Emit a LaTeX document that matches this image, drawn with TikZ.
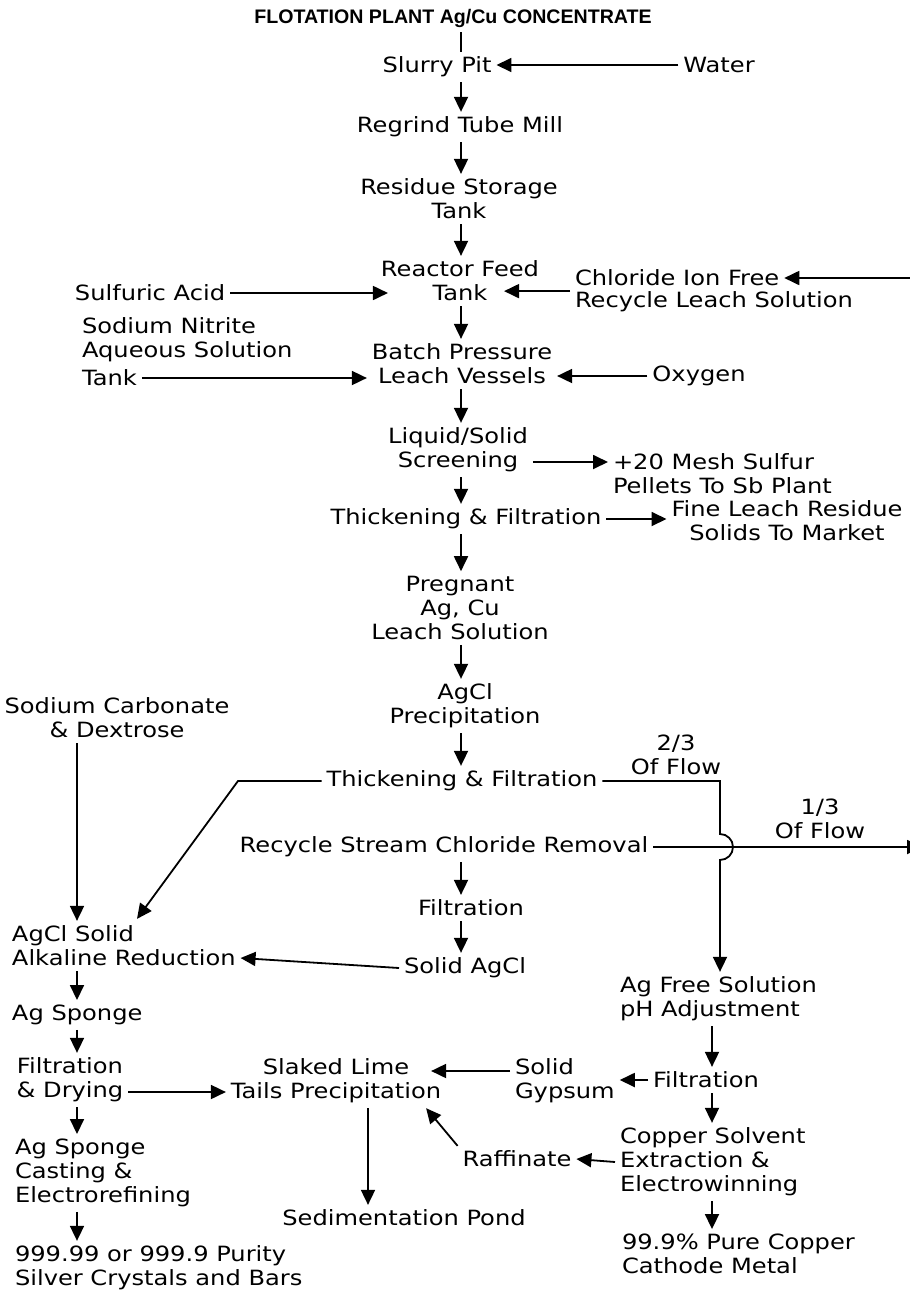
\documentclass[tikz,border=0pt]{standalone}
\usepackage{fontspec}
\setmainfont{DejaVu Sans}[FakeStretch=1.15]
\newfontfamily\titlefont{Liberation Sans}
\usetikzlibrary{arrows.meta,calc}
\begin{document}
\begin{tikzpicture}[x=1pt,y=-1pt,
  lbl/.style={inner sep=0pt,outer sep=5pt,font=\fontsize{21}{24}\selectfont,align=center},
  lft/.style={lbl,align=left,anchor=west},
  arr/.style={line width=1.8pt,-{Triangle[length=15pt,width=14pt]}},
  ln/.style={line width=1.8pt}]
\useasboundingbox (0,0) rectangle (910,1293);
\coordinate (col) at (461,0);
\coordinate (lc) at (77,0);
\coordinate (rc) at (712,0);
\coordinate (sc) at (368,0);
\coordinate (jx) at (720,0);
\coordinate (xl) at (238,0);
% nodes
\node[lbl,font={\titlefont\fontsize{19.6}{22}\selectfont\bfseries}] (title) at (453,18) {FLOTATION PLANT Ag/Cu CONCENTRATE};
\node[lbl] (slurry) at (437,67) {Slurry Pit};
\node[lbl] (water) at (719,65) {Water};
\node[lbl] (regrind) at (460,127) {Regrind Tube Mill};
\node[lbl] (residue) at (459,199) {Residue Storage\\Tank};
\node[lbl] (reactor) at (460,281) {Reactor Feed\\Tank};
\node[lbl] (sulf) at (150,293) {Sulfuric Acid};
\node[lft] (chlorA) at (570,278) {Chloride Ion Free};
\node[lft] (chlorB) at (570,302) {Recycle Leach Solution};
\node[lft] (nitrite) at (77,340) {Sodium Nitrite\\Aqueous Solution};
\node[lft] (nitriteT) at (77,378) {Tank};
\node[lbl] (batch) at (462,364) {Batch Pressure\\Leach Vessels};
\node[lbl] (oxygen) at (699,376) {Oxygen};
\node[lbl] (liquid) at (458,450) {Liquid/Solid\\Screening};
\node[lft] (mesh) at (608,474) {+20 Mesh Sulfur\\Pellets To Sb Plant};
\node[lbl] (thickA) at (466,519) {Thickening \& Filtration};
\node[lbl] (fine) at (787,521) {Fine Leach Residue\\Solids To Market};
\node[lbl] (pregnant) at (460,608) {Pregnant\\Ag, Cu\\Leach Solution};
\node[lbl] (agcl) at (465,706) {AgCl\\Precipitation};
\node[lbl] (thickB) at (462,781) {Thickening \& Filtration};
\node[lbl] (twothirds) at (676,755) {2/3\\Of Flow};
\node[lbl] (recycle) at (444,847) {Recycle Stream Chloride Removal};
\node[lbl] (onethird) at (820,819) {1/3\\Of Flow};
\node[lbl] (filtA) at (471,908) {Filtration};
\node[lbl] (solidagcl) at (465,968) {Solid AgCl};
\node[lbl] (sodium) at (117,718) {Sodium Carbonate\\\& Dextrose};
\node[lft] (alkaline) at (7,946) {AgCl Solid\\Alkaline Reduction};
\node[lft] (sponge) at (7,1015) {Ag Sponge};
\node[lbl] (drying) at (70,1080) {Filtration\\\& Drying};
\node[lft] (casting) at (10,1173) {Ag Sponge\\Casting \&\\Electrorefining};
\node[lft] (purity) at (10,1268) {999.99 or 999.9 Purity\\Silver Crystals and Bars};
\node[lbl] (slaked) at (336,1081) {Slaked Lime\\Tails Precipitation};
\node[lft] (gypsum) at (510,1081) {Solid\\Gypsum};
\node[lbl] (filtB) at (706,1080) {Filtration};
\node[lft] (agfree) at (615,999) {Ag Free Solution\\pH Adjustment};
\node[lft] (copper) at (615,1162) {Copper Solvent\\Extraction \&\\Electrowinning};
\node[lbl] (raff) at (517,1159) {Raffinate};
\node[lbl] (sed) at (404,1218) {Sedimentation Pond};
\node[lft] (cathode) at (617,1254) {99.9\% Pure Copper\\Cathode Metal};
% helper coordinates
\coordinate (eA) at (918,278);
\coordinate (eB) at (922,847);
\coordinate (lq) at ($(liquid.east)+(0,12)$);
\coordinate (rtip) at ($(reactor.east)+(-40,0)$);
\coordinate (ltip) at ($(reactor.west)+(12,0)$);
\coordinate (tipL) at ($(alkaline.north west)+(130,-2)$);
\coordinate (alkB) at ($(alkaline.east)+(0,12)$);
\coordinate (dryB) at ($(drying.east)+(0,12)$);
\coordinate (gypA) at ($(gypsum.west)+(0,-10)$);
\coordinate (slkE) at ($(slaked.east)+(-15,-10)$);
\coordinate (slkSE) at ($(slaked.south east)+(-20,0)$);
% connectors
\draw[ln] (title.south -| col) -- (slurry.north -| col);
\draw[arr] (water.west) -- (slurry.east |- water.west);
\draw[arr] (slurry.south -| col) -- (regrind.north -| col);
\draw[arr] (regrind.south -| col) -- (residue.north -| col);
\draw[arr] (residue.south -| col) -- (reactor.north -| col);
\draw[arr] (sulf.east) -- (ltip |- sulf.east);
\draw[arr] (eA) -- (chlorA.east);
\draw[arr] (chlorA.south west) -- (rtip |- chlorA.south west);
\draw[arr] (reactor.south -| col) -- (batch.north -| col);
\draw[arr] (nitriteT.east) -- (batch.west |- nitriteT.east);
\draw[arr] (oxygen.west) -- (batch.east |- oxygen.west);
\draw[arr] (batch.south -| col) -- (liquid.north -| col);
\draw[arr] (lq) -- (mesh.west |- lq);
\draw[arr] (liquid.south -| col) -- (thickA.north -| col);
\draw[arr] (thickA.east) -- (fine.west |- thickA.east);
\draw[arr] (thickA.south -| col) -- (pregnant.north -| col);
\draw[arr] (pregnant.south -| col) -- (agcl.north -| col);
\draw[arr] (agcl.south -| col) -- (thickB.north -| col);
\draw[arr] (thickB.west) -- (thickB.west -| xl) -- (tipL);
\draw[arr] (thickB.east) -- (thickB.east -| jx) -- ([yshift=13pt]recycle.east -| jx) arc[start angle=-90,end angle=90,radius=13] -- (agfree.north -| jx);
\draw[arr] (recycle.east) -- (eB);
\draw[arr] (recycle.south -| col) -- (filtA.north -| col);
\draw[arr] (filtA.south -| col) -- (solidagcl.north -| col);
\draw[arr] (solidagcl.west) -- (alkB);
\draw[arr] (sodium.south -| lc) -- (alkaline.north -| lc);
\draw[arr] (alkaline.south -| lc) -- (sponge.north -| lc);
\draw[arr] (sponge.south -| lc) -- (drying.north -| lc);
\draw[arr] (drying.south -| lc) -- (casting.north -| lc);
\draw[arr] (casting.south -| lc) -- (purity.north -| lc);
\draw[arr] (dryB) -- (slaked.west |- dryB);
\draw[arr] (gypA) -- (slkE);
\draw[arr] (filtB.west) -- (gypsum.east |- filtB.west);
\draw[arr] (agfree.south -| rc) -- (filtB.north -| rc);
\draw[arr] (filtB.south -| rc) -- (copper.north -| rc);
\draw[arr] (copper.west) -- (raff.east);
\draw[arr] (raff.north west) -- (slkSE);
\draw[arr] (slaked.south -| sc) -- (sed.north -| sc);
\draw[arr] (copper.south -| rc) -- (cathode.north -| rc);
\end{tikzpicture}
\end{document}
